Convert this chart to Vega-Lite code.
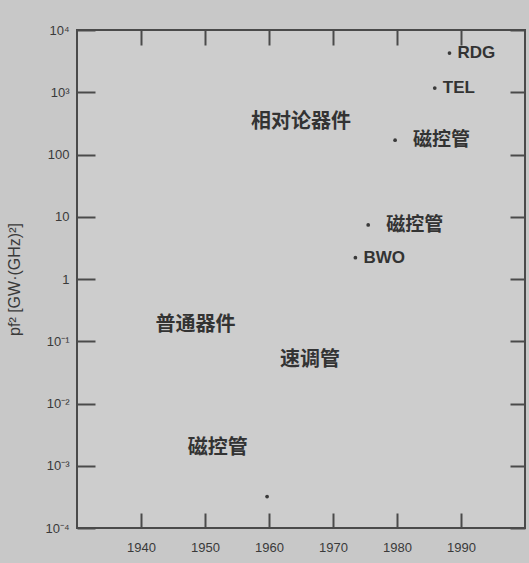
{
  "$schema": "https://vega.github.io/schema/vega-lite/v6.json",
  "autosize": {"type": "none"},
  "width": 448,
  "height": 498,
  "padding": {"left": 77, "top": 30, "right": 4, "bottom": 35},
  "background": "#c8c8c8",
  "config": {
    "view": {"stroke": "#4a4a4a", "strokeWidth": 2, "fill": "#cdcdcd"},
    "font": "Noto Sans CJK SC",
    "axis": {"grid": false, "domain": false, "tickColor": "#4a4a4a", "tickWidth": 2, "labelColor": "#3a3a3a", "labelFont": "Liberation Sans", "labelFontSize": 13, "titleColor": "#3a3a3a", "titleFont": "Liberation Sans", "titleFontWeight": "normal", "titleFontSize": 16}
  },
  "data": {
    "values": [
      {"year": 1988.2, "value": 4260, "label": "RDG", "kind": "pt", "script": "latin"},
      {"year": 1985.9, "value": 1170, "label": "TEL", "kind": "pt", "script": "latin"},
      {"year": 1979.7, "value": 170, "label": "磁控管", "kind": "pt", "script": "cjk"},
      {"year": 1975.5, "value": 7.4, "label": "磁控管", "kind": "pt", "script": "cjk"},
      {"year": 1973.5, "value": 2.2, "label": "BWO", "kind": "pt", "script": "latin"},
      {"year": 1959.7, "value": 0.00032, "label": "", "kind": "pt", "script": "none"},
      {"year": 1965.0, "value": 330, "label": "相对论器件", "kind": "txt", "script": "cjk"},
      {"year": 1948.5, "value": 0.18, "label": "普通器件", "kind": "txt", "script": "cjk"},
      {"year": 1966.4, "value": 0.05, "label": "速调管", "kind": "txt", "script": "cjk"},
      {"year": 1952.0, "value": 0.0019, "label": "磁控管", "kind": "txt", "script": "cjk"}
    ]
  },
  "layer": [
    {
      "transform": [{"filter": "datum.kind == 'pt'"}],
      "mark": {"type": "point", "filled": true, "size": 14, "color": "#3a3a3a", "opacity": 1},
      "encoding": {
        "x": {"field": "year", "type": "quantitative", "scale": {"domain": [1930, 2000], "nice": false, "zero": false},
          "axis": {"orient": "bottom", "values": [1940, 1950, 1960, 1970, 1980, 1990], "format": "d", "tickSize": -15, "labelPadding": 28, "title": null}},
        "y": {"field": "value", "type": "quantitative", "scale": {"type": "log", "domain": [0.0001, 10000], "nice": false},
          "axis": {"orient": "left", "values": [0.0001, 0.001, 0.01, 0.1, 1, 10, 100, 1000, 10000], "tickSize": -18, "labelPadding": 26,
            "labelExpr": "datum.value >= 10000 ? '10⁴' : datum.value >= 1000 ? '10³' : datum.value >= 100 ? '100' : datum.value >= 10 ? '10' : datum.value >= 1 ? '1' : datum.value >= 0.1 ? '10⁻¹' : datum.value >= 0.01 ? '10⁻²' : datum.value >= 0.001 ? '10⁻³' : '10⁻⁴'",
            "title": "pf² [GW·(GHz)²]", "titlePadding": 22}}
      }
    },
    {
      "transform": [{"filter": "datum.kind == 'pt' && datum.script == 'latin'"}],
      "mark": {"type": "text", "align": "left", "dx": 8, "baseline": "middle", "fontSize": 17, "fontWeight": "bold", "font": "Liberation Sans", "color": "#333333"},
      "encoding": {
        "x": {"field": "year", "type": "quantitative", "axis": null},
        "y": {"field": "value", "type": "quantitative", "scale": {"type": "log"}, "axis": null},
        "text": {"field": "label"}
      }
    },
    {
      "transform": [{"filter": "datum.kind == 'pt' && datum.script == 'cjk'"}],
      "mark": {"type": "text", "align": "left", "dx": 18, "baseline": "middle", "fontSize": 19, "fontWeight": "bold", "color": "#333333"},
      "encoding": {
        "x": {"field": "year", "type": "quantitative", "axis": null},
        "y": {"field": "value", "type": "quantitative", "scale": {"type": "log"}, "axis": null},
        "text": {"field": "label"}
      }
    },
    {
      "transform": [{"filter": "datum.kind == 'txt'"}],
      "mark": {"type": "text", "align": "center", "baseline": "middle", "fontSize": 20, "fontWeight": "bold", "color": "#333333"},
      "encoding": {
        "x": {"field": "year", "type": "quantitative",
          "axis": {"orient": "top", "values": [1940, 1950, 1960, 1970, 1980, 1990], "labels": false, "tickSize": -15, "title": null}},
        "y": {"field": "value", "type": "quantitative", "scale": {"type": "log"},
          "axis": {"orient": "right", "values": [0.0001, 0.001, 0.01, 0.1, 1, 10, 100, 1000, 10000], "labels": false, "tickSize": -15, "title": null}},
        "text": {"field": "label"}
      }
    }
  ],
  "resolve": {"axis": {"x": "independent", "y": "independent"}}
}
